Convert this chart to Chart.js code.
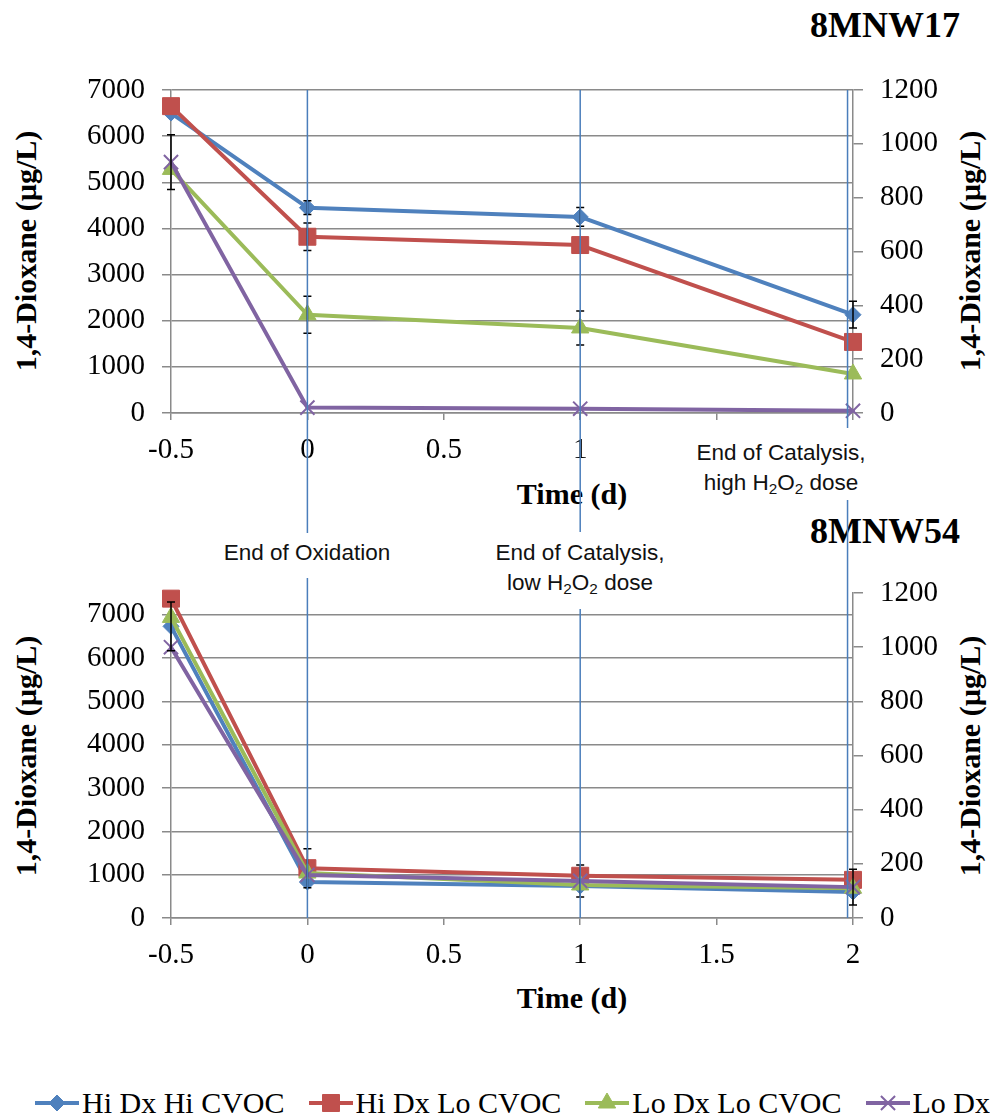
<!DOCTYPE html>
<html>
<head>
<meta charset="utf-8">
<script src="https://cdn.jsdelivr.net/npm/chart.js@4.4.1/dist/chart.umd.min.js"></script>
<style>
html,body{margin:0;padding:0;background:#fff;}
body{width:990px;height:1117px;position:relative;overflow:hidden;}
canvas.chart{position:absolute;left:0;z-index:2;}
.t{position:absolute;z-index:1;font-family:"Liberation Serif","Times New Roman",serif;font-weight:bold;color:#000;white-space:nowrap;}
.ytitle{font-size:30px;line-height:34px;width:400px;height:34px;text-align:center;transform:translate(-50%,-50%) rotate(-90deg);}
.xtitle{font-size:30px;line-height:34px;transform:translate(-50%,-50%);}
.ptitle{font-size:36px;line-height:40px;}
.ann{position:absolute;z-index:3;background:#fff;font-family:"Liberation Sans",Arial,sans-serif;font-size:22.5px;line-height:30px;text-align:center;width:180px;color:#111;white-space:nowrap;}
.ann sub{font-size:0.68em;vertical-align:-0.25em;line-height:0;}
#legend{position:absolute;z-index:3;left:35px;top:1088px;width:955px;height:30px;overflow:hidden;display:flex;flex-wrap:nowrap;align-items:center;gap:24px;white-space:nowrap;}
.li{display:flex;align-items:center;flex-shrink:0;gap:3px;}
.li span{font-family:"Liberation Serif","Times New Roman",serif;font-size:30px;line-height:30px;color:#000;}
</style>
</head>
<body>
<div class="t ptitle" style="right:30px;top:5px;">8MNW17</div>
<div class="t ptitle" style="right:30px;top:511px;">8MNW54</div>
<div class="t ytitle" style="left:26px;top:251px;">1,4-Dioxane (µg/L)</div>
<div class="t ytitle" style="left:970px;top:251px;">1,4-Dioxane (µg/L)</div>
<div class="t ytitle" style="left:26px;top:756px;">1,4-Dioxane (µg/L)</div>
<div class="t ytitle" style="left:970px;top:756px;">1,4-Dioxane (µg/L)</div>
<div class="t xtitle" style="left:572px;top:494px;">Time (d)</div>
<div class="t xtitle" style="left:572px;top:998px;">Time (d)</div>

<canvas id="c17" class="chart" width="990" height="505" style="top:0px;"></canvas>
<canvas id="c54" class="chart" width="990" height="560" style="top:505px;"></canvas>

<div class="ann" style="left:217px;top:533px;padding:5px 0 10px 0;">End of Oxidation</div>
<div class="ann" style="left:490px;top:532px;padding:6px 0 11px 0;">End of Catalysis,<br>low H<sub>2</sub>O<sub>2</sub> dose</div>
<div class="ann" style="left:691px;top:428px;padding:10px 0 2px 0;">End of Catalysis,<br>high H<sub>2</sub>O<sub>2</sub> dose</div>

<div id="legend"></div>

<script>
// ---------- data ----------
const days = [-0.5, 0, 1, 2];
const seriesNames = ['Hi Dx Hi CVOC', 'Hi Dx Lo CVOC', 'Lo Dx Lo CVOC', 'Lo Dx Hi CVOC'];

// 8MNW17 (Hi Dx series on left axis, Lo Dx series on right axis)
const w17HiDxHiCvoc = [6500, 4450, 4250, 2130];
const w17HiDxLoCvoc = [6650, 3820, 3640, 1540];
const w17LoDxLoCvoc = [905, 365, 316, 145];
const w17LoDxHiCvoc = [932, 20, 16, 8];
const w17HiDxHiCvocErr = [0, 150, 205, 290];
const w17HiDxLoCvocErr = [0, 300, 0, 0];
const w17LoDxLoCvocErr = [0, 69, 63, 0];
const w17LoDxHiCvocErr = [102, 0, 0, 0];

// 8MNW54
const w54HiDxHiCvoc = [6730, 830, 740, 600];
const w54HiDxLoCvoc = [7370, 1150, 975, 880];
const w54LoDxLoCvoc = [1110, 166, 122, 110];
const w54LoDxHiCvoc = [1000, 159, 137, 114];
const w54HiDxHiCvocErr = [560, 0, 0, 0];
const w54HiDxLoCvocErr = [0, 450, 0, 0];
const w54LoDxLoCvocErr = [0, 0, 0, 0];
const w54LoDxHiCvocErr = [0, 0, 59, 66];

// axes
const xTickValues = [-0.5, 0, 0.5, 1, 1.5, 2];
const w17XTickLabels = ['-0.5', '0', '0.5', '1', '', ''];
const w54XTickLabels = ['-0.5', '0', '0.5', '1', '1.5', '2'];
const leftTickValues = [0, 1000, 2000, 3000, 4000, 5000, 6000, 7000];
const rightTickValues = [0, 200, 400, 600, 800, 1000, 1200];
const w17LeftMax = 7000;
const w54LeftMax = 7500;
const rightMax = 1200;
const markerDays = [0, 1, 1.98];

// ---------- styles ----------
const seriesColors = ['#4f81bd', '#c0504d', '#9bbb59', '#8064a2'];
const seriesMarkers = ['rectRot', 'rect', 'triangle', 'crossRot'];
const markerRadius = [8, 12, 10, 10];
const gridColor = '#8a8a8a';
const serif = '"Liberation Serif", "Times New Roman", serif';

Chart.defaults.font.family = serif;

function buildDatasets(valueSets, errSets) {
  return valueSets.map((vals, s) => ({
    label: seriesNames[s],
    data: days.map((d, i) => ({ x: d, y: vals[i] })),
    errors: errSets[s],
    yAxisID: s < 2 ? 'yL' : 'yR',
    borderColor: seriesColors[s],
    backgroundColor: seriesColors[s],
    pointBackgroundColor: seriesColors[s],
    pointBorderColor: seriesColors[s],
    borderWidth: 4,
    pointStyle: seriesMarkers[s],
    pointRadius: markerRadius[s],
    pointBorderWidth: s === 3 ? 2 : 1,
    borderJoinStyle: 'round',
    borderCapStyle: 'round',
    tension: 0,
    clip: false,
    order: 3 - s
  }));
}

const errorBars = {
  id: 'errorBars',
  afterDatasetsDraw(chart) {
    const ctx = chart.ctx;
    ctx.save();
    ctx.strokeStyle = '#000';
    ctx.lineWidth = 1.5;
    chart.data.datasets.forEach(ds => {
      const ys = chart.scales[ds.yAxisID], xs = chart.scales.x;
      ds.data.forEach((p, i) => {
        const e = ds.errors[i];
        if (!e) return;
        const px = xs.getPixelForValue(p.x);
        const y1 = ys.getPixelForValue(p.y + e), y2 = ys.getPixelForValue(p.y - e);
        ctx.beginPath();
        ctx.moveTo(px, y1); ctx.lineTo(px, y2);
        ctx.moveTo(px - 4, y1); ctx.lineTo(px + 4, y1);
        ctx.moveTo(px - 4, y2); ctx.lineTo(px + 4, y2);
        ctx.stroke();
      });
    });
    ctx.restore();
  }
};

const dayMarkers = {
  id: 'dayMarkers',
  afterDraw(chart, args, opts) {
    const { ctx, chartArea, scales } = chart;
    const top = opts.extendUp ? 0 : chartArea.top;
    const bottom = opts.extendDown ? chart.height : chartArea.bottom;
    ctx.save();
    ctx.strokeStyle = '#4a7ebb';
    ctx.lineWidth = 1.5;
    markerDays.forEach(d => {
      const x = scales.x.getPixelForValue(d);
      ctx.beginPath();
      ctx.moveTo(x, top);
      ctx.lineTo(x, bottom);
      ctx.stroke();
    });
    ctx.restore();
  }
};

function scalesFor(leftMax, xLabels, xHeight) {
  const tickFont = { family: serif, size: 29 };
  return {
    x: {
      type: 'linear', min: -0.5, max: 2,
      afterBuildTicks: s => { s.ticks = xTickValues.map(v => ({ value: v })); },
      afterFit: s => { s.height = xHeight; },
      grid: { drawOnChartArea: false, drawTicks: true, tickLength: 7, color: gridColor, lineWidth: 1.5 },
      border: { display: true, color: gridColor, width: 1.5 },
      ticks: { color: '#000', font: tickFont, padding: 13, maxRotation: 0, autoSkip: false,
        callback: (v, i) => xLabels[i] }
    },
    yL: {
      type: 'linear', position: 'left', min: 0, max: leftMax,
      afterBuildTicks: s => { s.ticks = leftTickValues.map(v => ({ value: v })); },
      afterFit: s => { s.width = 171; },
      grid: { drawOnChartArea: true, drawTicks: true, tickLength: 9, color: gridColor, lineWidth: 1.5 },
      border: { display: true, color: gridColor, width: 1.5 },
      ticks: { color: '#000', font: tickFont, padding: 17, autoSkip: false, callback: v => String(v) }
    },
    yR: {
      type: 'linear', position: 'right', min: 0, max: rightMax,
      afterBuildTicks: s => { s.ticks = rightTickValues.map(v => ({ value: v })); },
      afterFit: s => { s.width = 137; },
      grid: { drawOnChartArea: false, drawTicks: true, tickLength: 10, color: gridColor, lineWidth: 1.5 },
      border: { display: true, color: gridColor, width: 1.5 },
      ticks: { color: '#000', font: tickFont, padding: 17, autoSkip: false, callback: v => String(v) }
    }
  };
}

function makeChart(id, valueSets, errSets, leftMax, xLabels, padTop, xHeight, markerOpts) {
  return new Chart(document.getElementById(id), {
    type: 'line',
    data: { datasets: buildDatasets(valueSets, errSets) },
    options: {
      responsive: false,
      animation: false,
      devicePixelRatio: 1,
      layout: { padding: { top: padTop, left: 0, right: 0, bottom: 0 } },
      plugins: { legend: { display: false }, tooltip: { enabled: false }, dayMarkers: markerOpts },
      scales: scalesFor(leftMax, xLabels, xHeight)
    },
    plugins: [errorBars, dayMarkers]
  });
}

makeChart('c17',
  [w17HiDxHiCvoc, w17HiDxLoCvoc, w17LoDxLoCvoc, w17LoDxHiCvoc],
  [w17HiDxHiCvocErr, w17HiDxLoCvocErr, w17LoDxLoCvocErr, w17LoDxHiCvocErr],
  w17LeftMax, w17XTickLabels, 90, 92, { extendDown: true });

makeChart('c54',
  [w54HiDxHiCvoc, w54HiDxLoCvoc, w54LoDxLoCvoc, w54LoDxHiCvoc],
  [w54HiDxHiCvocErr, w54HiDxLoCvocErr, w54LoDxLoCvocErr, w54LoDxHiCvocErr],
  w54LeftMax, w54XTickLabels, 88, 147, { extendUp: true });

// ---------- legend ----------
function fallbackPoint(g, style, r, x, y) {
  g.beginPath();
  if (style === 'rectRot') { g.moveTo(x - r, y); g.lineTo(x, y - r); g.lineTo(x + r, y); g.lineTo(x, y + r); g.closePath(); g.fill(); }
  else if (style === 'rect') { const h = r * Math.SQRT1_2; g.rect(x - h, y - h, 2 * h, 2 * h); g.fill(); }
  else if (style === 'triangle') { g.moveTo(x, y - r); g.lineTo(x + r * 0.866, y + r / 2); g.lineTo(x - r * 0.866, y + r / 2); g.closePath(); g.fill(); }
  else { const h = r * Math.SQRT1_2; g.moveTo(x - h, y - h); g.lineTo(x + h, y + h); g.moveTo(x + h, y - h); g.lineTo(x - h, y + h); g.stroke(); }
}
const legendEl = document.getElementById('legend');
seriesNames.forEach((name, s) => {
  const item = document.createElement('div');
  item.className = 'li';
  const c = document.createElement('canvas');
  c.width = 44; c.height = 30;
  const g = c.getContext('2d');
  g.strokeStyle = seriesColors[s];
  g.lineWidth = 4;
  g.beginPath(); g.moveTo(0, 15); g.lineTo(44, 15); g.stroke();
  g.fillStyle = seriesColors[s];
  g.lineWidth = s === 3 ? 2 : 1;
  if (Chart.helpers && Chart.helpers.drawPoint) {
    Chart.helpers.drawPoint(g, { pointStyle: seriesMarkers[s], radius: markerRadius[s], borderWidth: s === 3 ? 2 : 1, rotation: 0 }, 22, 15);
  } else {
    fallbackPoint(g, seriesMarkers[s], markerRadius[s], 22, 15);
  }
  const sp = document.createElement('span');
  sp.textContent = name;
  item.appendChild(c);
  item.appendChild(sp);
  legendEl.appendChild(item);
});
</script>
</body>
</html>
